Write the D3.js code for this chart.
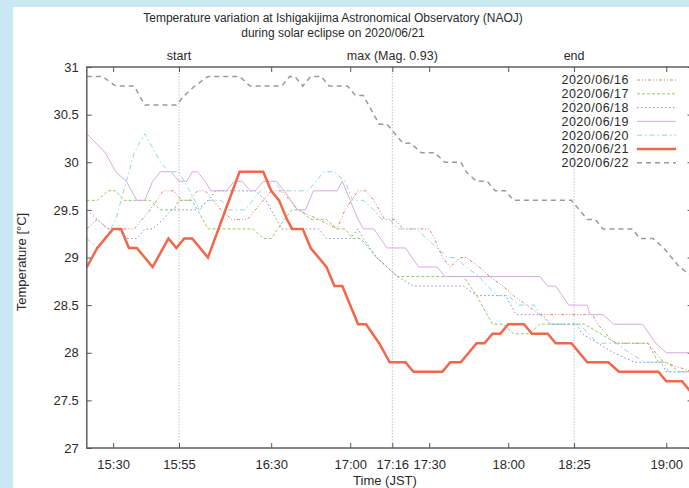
<!DOCTYPE html>
<html>
<head>
  <title>Ishigakijima temperature during eclipse</title>
  <script src="https://d3js.org/d3.v7.min.js"></script>
  <style>
    body { margin: 0; background: #c9e8f4; }
    svg text { font-family: "Liberation Sans", Arial, sans-serif; fill: #2a2a2a; }
    .axis text { font-size: 13px; }
    .axis line { stroke: #555; }
    .series { fill: none; }
  </style>
</head>
<body>
<svg id="chart" width="689" height="488"></svg>
<script>
  // tick labels
  const xTicks = ["15:30", "15:55", "16:30", "17:00", "17:16", "17:30", "18:00", "18:25", "19:00"];
  const yTicks = [27, 27.5, 28, 28.5, 29, 29.5, 30, 30.5, 31];
  const eclipseTimes = ["15:55", "17:16", "18:25"];
  const eclipseLabels = ["start", "max (Mag. 0.93)", "end"];
  const dates = ["2020/06/16", "2020/06/17", "2020/06/18", "2020/06/19", "2020/06/20", "2020/06/21", "2020/06/22"];

  // [time, temperature]
  const d0616 = [["15:20",29.3],["15:24",29.4],["15:28",29.3],["15:38",29.3],["15:44",29.5],["15:49",29.7],["15:53",29.7],["15:56",29.6],["15:59",29.6],["16:02",29.7],["16:05",29.7],["16:08",29.6],["16:11",29.5],["16:15",29.4],["16:21",29.4],["16:24",29.5],["16:27",29.6],["16:30",29.7],["16:34",29.7],["16:37",29.6],["16:40",29.5],["16:48",29.4],["16:55",29.3],["16:58",29.5],["17:03",29.7],["17:06",29.7],["17:09",29.6],["17:13",29.4],["17:17",29.4],["17:20",29.3],["17:30",29.3],["17:32",29.2],["17:35",29.0],["17:38",28.9],["17:42",29.0],["17:44",29.0],["17:49",28.9],["17:53",28.8],["17:58",28.7],["18:02",28.6],["18:07",28.5],["18:12",28.4],["18:32",28.4],["18:34",28.3],["18:37",28.2],["18:41",28.1],["18:53",28.1],["18:56",28.0],["18:59",27.9],["19:10",27.8]];
  const d0617 = [["15:20",29.6],["15:24",29.6],["15:28",29.7],["15:31",29.7],["15:34",29.6],["15:44",29.6],["15:48",29.5],["15:53",29.5],["15:55",29.6],["16:00",29.6],["16:06",29.3],["16:23",29.3],["16:27",29.2],["16:30",29.2],["16:35",29.4],["16:38",29.5],["16:41",29.5],["16:45",29.4],["16:51",29.4],["16:55",29.3],["16:58",29.3],["17:01",29.2],["17:04",29.2],["17:10",29.0],["17:14",28.9],["17:18",28.8],["17:43",28.8],["17:48",28.6],["17:54",28.3],["17:58",28.3],["18:02",28.2],["18:08",28.2],["18:12",28.3],["18:29",28.3],["18:41",28.1],["18:53",28.1],["18:57",27.9],["19:00",27.9],["19:05",27.8],["19:10",27.8]];
  const d0618 = [["15:20",29.5],["15:24",29.4],["15:28",29.3],["15:32",29.3],["15:35",29.2],["15:39",29.2],["15:42",29.3],["15:45",29.3],["15:49",29.4],["15:52",29.5],["16:02",29.5],["16:06",29.6],["16:09",29.7],["16:24",29.7],["16:28",29.6],["16:32",29.4],["16:34",29.3],["16:48",29.3],["16:51",29.2],["17:00",29.2],["17:03",29.3],["17:05",29.2],["17:10",29.0],["17:14",28.9],["17:18",28.8],["17:24",28.7],["17:43",28.7],["17:48",28.6],["17:59",28.6],["18:03",28.4],["18:13",28.4],["18:16",28.3],["18:26",28.3],["18:28",28.2],["18:34",28.1],["18:40",28.0],["18:48",27.9],["18:58",27.9],["19:00",27.8],["19:10",27.8]];
  const d0619 = [["15:20",30.3],["15:27",30.1],["15:31",29.9],["15:35",29.8],["15:39",29.6],["15:42",29.6],["15:45",29.8],["15:48",29.9],["15:52",29.9],["15:55",29.8],["15:58",29.8],["16:00",29.9],["16:02",29.9],["16:05",29.8],["16:07",29.7],["16:13",29.7],["16:16",29.8],["16:19",29.8],["16:22",29.7],["16:24",29.7],["16:27",29.8],["16:32",29.8],["16:35",29.7],["16:40",29.5],["16:43",29.5],["16:46",29.7],["16:55",29.7],["16:57",29.8],["17:00",29.6],["17:03",29.4],["17:05",29.3],["17:09",29.3],["17:14",29.1],["17:21",29.1],["17:26",28.9],["17:33",28.9],["17:36",28.8],["18:12",28.8],["18:15",28.7],["18:18",28.7],["18:23",28.5],["18:30",28.5],["18:31",28.4],["18:36",28.4],["18:40",28.3],["18:51",28.3],["18:56",28.1],["19:00",28.0],["19:10",28.0]];
  const d0620 = [["15:20",29.2],["15:24",29.1],["15:29",29.3],["15:31",29.4],["15:35",29.8],["15:38",30.1],["15:42",30.3],["15:44",30.2],["15:48",30.0],["15:51",29.9],["15:55",29.9],["15:57",29.8],["15:59",29.7],["16:03",29.5],["16:06",29.6],["16:11",29.6],["16:14",29.5],["16:20",29.5],["16:26",29.7],["16:31",29.8],["16:34",29.7],["16:44",29.7],["16:47",29.8],["16:50",29.9],["16:54",29.9],["16:58",29.8],["17:01",29.6],["17:05",29.6],["17:09",29.5],["17:12",29.4],["17:15",29.4],["17:18",29.3],["17:25",29.3],["17:29",29.2],["17:33",29.1],["17:37",29.0],["17:40",29.0],["17:44",28.9],["17:49",28.8],["17:52",28.7],["17:56",28.6],["18:00",28.6],["18:04",28.5],["18:10",28.5],["18:12",28.4],["18:16",28.3],["18:27",28.3],["18:34",28.1],["18:41",28.1],["18:46",28.0],["18:52",27.9],["18:59",27.9],["19:01",27.8],["19:10",27.8]];
  const d0621 = [["15:20",28.9],["15:22",29.0],["15:24",29.1],["15:30",29.3],["15:33",29.3],["15:36",29.1],["15:39",29.1],["15:45",28.9],["15:51",29.2],["15:54",29.1],["15:57",29.2],["16:00",29.2],["16:06",29.0],["16:18",29.9],["16:27",29.9],["16:30",29.7],["16:33",29.6],["16:36",29.4],["16:38",29.3],["16:42",29.3],["16:45",29.1],["16:51",28.9],["16:54",28.7],["16:57",28.7],["17:03",28.3],["17:06",28.3],["17:11",28.1],["17:15",27.9],["17:21",27.9],["17:24",27.8],["17:35",27.8],["17:38",27.9],["17:42",27.9],["17:45",28.0],["17:48",28.1],["17:51",28.1],["17:54",28.2],["17:57",28.2],["18:00",28.3],["18:06",28.3],["18:09",28.2],["18:15",28.2],["18:18",28.1],["18:24",28.1],["18:30",27.9],["18:38",27.9],["18:42",27.8],["18:57",27.8],["19:00",27.7],["19:06",27.7],["19:09",27.6],["19:10",27.6]];
  const d0622 = [["15:20",30.9],["15:26",30.9],["15:31",30.8],["15:38",30.8],["15:42",30.6],["15:54",30.6],["15:57",30.7],["16:01",30.8],["16:06",30.9],["16:18",30.9],["16:22",30.8],["16:34",30.8],["16:37",30.9],["16:39",30.9],["16:42",30.8],["16:45",30.9],["16:49",30.9],["16:52",30.8],["16:59",30.8],["17:02",30.7],["17:05",30.7],["17:07",30.6],["17:09",30.5],["17:11",30.4],["17:14",30.4],["17:17",30.3],["17:20",30.2],["17:23",30.2],["17:27",30.1],["17:32",30.1],["17:36",30.0],["17:42",30.0],["17:44",29.9],["17:48",29.8],["17:52",29.8],["17:55",29.7],["17:59",29.7],["18:02",29.6],["18:24",29.6],["18:27",29.5],["18:30",29.4],["18:33",29.4],["18:36",29.3],["18:47",29.3],["18:50",29.2],["18:55",29.2],["18:59",29.1],["19:02",29.0],["19:05",28.9],["19:10",28.8]];

  const seriesData = [d0616, d0617, d0618, d0619, d0620, d0621, d0622];
  const styles = [
    { color: "#e2806c", width: 1, dash: "3,2,1,2,1,2" },
    { color: "#8fcc6a", width: 1, dash: "3,2" },
    { color: "#8585e0", width: 1, dash: "1.5,2.5" },
    { color: "#d8aae0", width: 1, dash: null },
    { color: "#8dd6e4", width: 1, dash: "5,3,1.5,3" },
    { color: "#f2674a", width: 2.5, dash: null },
    { color: "#9a9a9a", width: 1.5, dash: "5,4" }
  ];

  const parse = d3.timeParse("%H:%M");
  const svg = d3.select("#chart");

  svg.append("rect").attr("x", 13).attr("y", 7).attr("width", 689).attr("height", 488).attr("fill", "#fff");

  const x = d3.scaleTime().domain([parse("15:20"), parse("19:10")]).range([86.8, 692.6]);
  const y = d3.scaleLinear().domain([27, 31]).range([448, 67]);
  const [x0, x1] = x.range();
  const [y0, y1] = y.range();

  // titles
  svg.append("text").attr("x", 333).attr("y", 22).attr("text-anchor", "middle").style("font-size", "12px")
    .text("Temperature variation at Ishigakijima Astronomical Observatory (NAOJ)");
  svg.append("text").attr("x", 333).attr("y", 37).attr("text-anchor", "middle").style("font-size", "12px")
    .text("during solar eclipse on 2020/06/21");

  // eclipse markers
  svg.append("g").selectAll("line").data(eclipseTimes).join("line")
    .attr("x1", d => x(parse(d))).attr("x2", d => x(parse(d)))
    .attr("y1", y1).attr("y2", y0)
    .attr("stroke", "#c4c4c4").attr("stroke-dasharray", "1.5,1.5");
  svg.append("g").selectAll("text").data(eclipseTimes).join("text")
    .attr("x", d => x(parse(d))).attr("y", 60).attr("text-anchor", "middle")
    .style("font-size", "12.5px")
    .text((d, i) => eclipseLabels[i]);

  // axes with inward ticks
  const xt = xTicks.map(parse);
  svg.append("g").attr("class", "axis").attr("transform", `translate(0,${y0})`)
    .call(d3.axisBottom(x).tickValues(xt).tickFormat(d3.timeFormat("%H:%M")).tickSize(-5).tickPadding(12))
    .call(g => g.select(".domain").remove());
  svg.append("g").attr("class", "axis").attr("transform", `translate(0,${y1})`)
    .call(d3.axisTop(x).tickValues(xt).tickFormat("").tickSize(-5))
    .call(g => g.select(".domain").remove());
  svg.append("g").attr("class", "axis").attr("transform", `translate(${x0},0)`)
    .call(d3.axisLeft(y).tickValues(yTicks).tickFormat(d3.format("")).tickSize(-5).tickPadding(8))
    .call(g => g.select(".domain").remove());
  svg.append("g").attr("class", "axis").attr("transform", `translate(${x1},0)`)
    .call(d3.axisRight(y).tickValues(yTicks).tickFormat("").tickSize(-5))
    .call(g => g.select(".domain").remove());

  svg.append("defs").append("clipPath").attr("id", "plot")
    .append("rect").attr("x", x0).attr("y", y1).attr("width", x1 - x0).attr("height", y0 - y1);

  const line = d3.line().x(d => x(parse(d[0]))).y(d => y(d[1]));
  svg.append("g").attr("clip-path", "url(#plot)")
    .selectAll("path").data(seriesData).join("path")
    .attr("class", "series")
    .attr("d", line)
    .attr("stroke", (d, i) => styles[i].color)
    .attr("stroke-width", (d, i) => styles[i].width)
    .attr("stroke-dasharray", (d, i) => styles[i].dash);

  // frame
  svg.append("rect").attr("x", x0).attr("y", y1).attr("width", x1 - x0).attr("height", y0 - y1)
    .attr("fill", "none").attr("stroke", "#555").attr("stroke-width", 1.4);

  // axis labels
  svg.append("text").attr("x", 385).attr("y", 485).attr("text-anchor", "middle").style("font-size", "13px")
    .text("Time (JST)");
  svg.append("text").attr("transform", "translate(26,262) rotate(-90)").attr("text-anchor", "middle")
    .style("font-size", "13px").text("Temperature [°C]");

  // legend
  const legend = svg.append("g").selectAll("g").data(dates).join("g")
    .attr("transform", (d, i) => `translate(0,${80 + i * 13.8})`);
  legend.append("text").attr("x", 629).attr("dy", "0.35em").attr("text-anchor", "end")
    .style("font-size", "12.5px").style("letter-spacing", "0.5px").text(d => d);
  legend.append("line").attr("x1", 637).attr("x2", 676)
    .attr("stroke", (d, i) => styles[i].color)
    .attr("stroke-width", (d, i) => styles[i].width)
    .attr("stroke-dasharray", (d, i) => styles[i].dash);
</script>
</body>
</html>
